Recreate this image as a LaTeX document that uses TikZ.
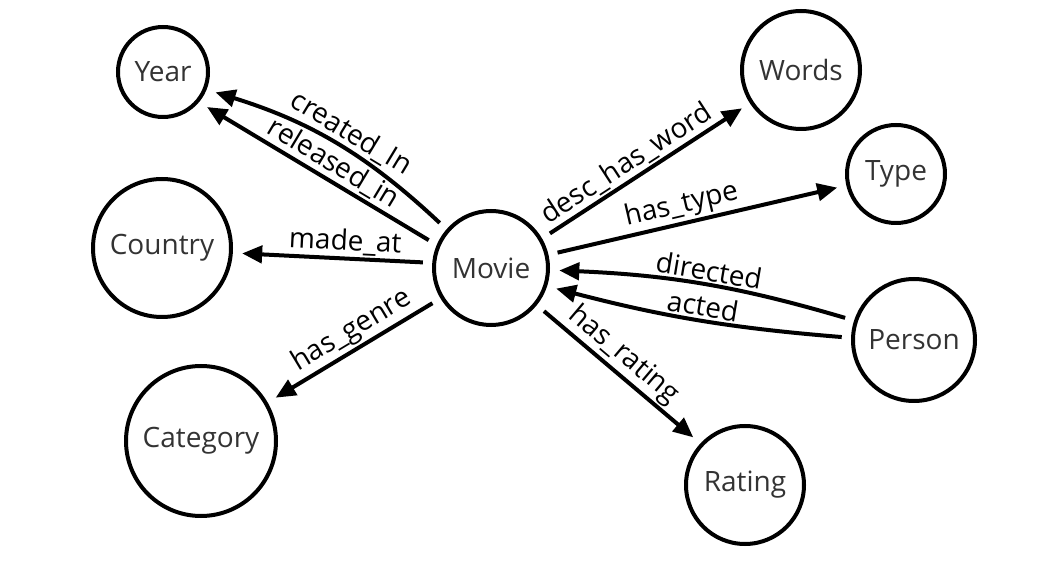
\documentclass[tikz,border=0pt]{standalone}
\usepackage{fontspec}
\setmainfont{Open Sans}
\usetikzlibrary{arrows.meta}

\begin{document}
\begin{tikzpicture}[x=0.75pt, y=0.75pt, >={Triangle[length=15pt,width=13pt]},
  ent/.style={circle, draw, line width=3pt, text=black!80, font=\fontsize{21}{25}\selectfont},
  rel/.style={->, line width=3pt, shorten <=7pt, shorten >=7pt},
  lbl/.style={sloped, above, inner sep=1.5pt, font=\fontsize{21}{25}\selectfont}]
\useasboundingbox (0,0) rectangle (1058,579);
% entities
\node [ent, minimum size=85.5pt] (movie) at (491,311) {Movie};
\node [ent, minimum size=67.5pt] (year) at (163,507) {Year};
\node [ent, minimum size=103.5pt] (country) at (162,331) {Country};
\node [ent, minimum size=112.5pt] (category) at (201,138) {Category};
\node [ent, minimum size=88.5pt] (words) at (801,509) {Words};
\node [ent, minimum size=73.5pt] (type) at (896,405) {Type};
\node [ent, minimum size=91.5pt] (person) at (914,239) {Person};
\node [ent, minimum size=88.5pt] (rating) at (745,94) {Rating};
% relations
\draw [rel] (movie.139) to [bend right=13] node [lbl, pos=0.47] {created\_In} (year.-22);
\draw [rel] (movie.157) -- (year.-40) node [lbl, pos=0.47] {released\_in};
\draw [rel] (movie.175) -- (country.-4) node [lbl, pos=0.44] {made\_at};
\draw [rel] (movie.211) -- (category.30) node [lbl, pos=0.46] {has\_genre};
\draw [rel] (movie.30) -- (words.213) node [lbl, pos=0.45] {desc\_has\_word};
\draw [rel] (movie.13) -- (type.193) node [lbl, pos=0.46] {has\_type};
\draw [rel] (movie.-39) -- (rating.137) node [lbl, pos=0.46] {has\_rating};
\draw [rel] (person.162) to [bend right=7] node [lbl, pos=0.49] {directed} (movie.-2);
\draw [rel] (person.178) to [bend left=5] node [lbl, pos=0.49] {acted} (movie.-18);
\end{tikzpicture}
\end{document}
